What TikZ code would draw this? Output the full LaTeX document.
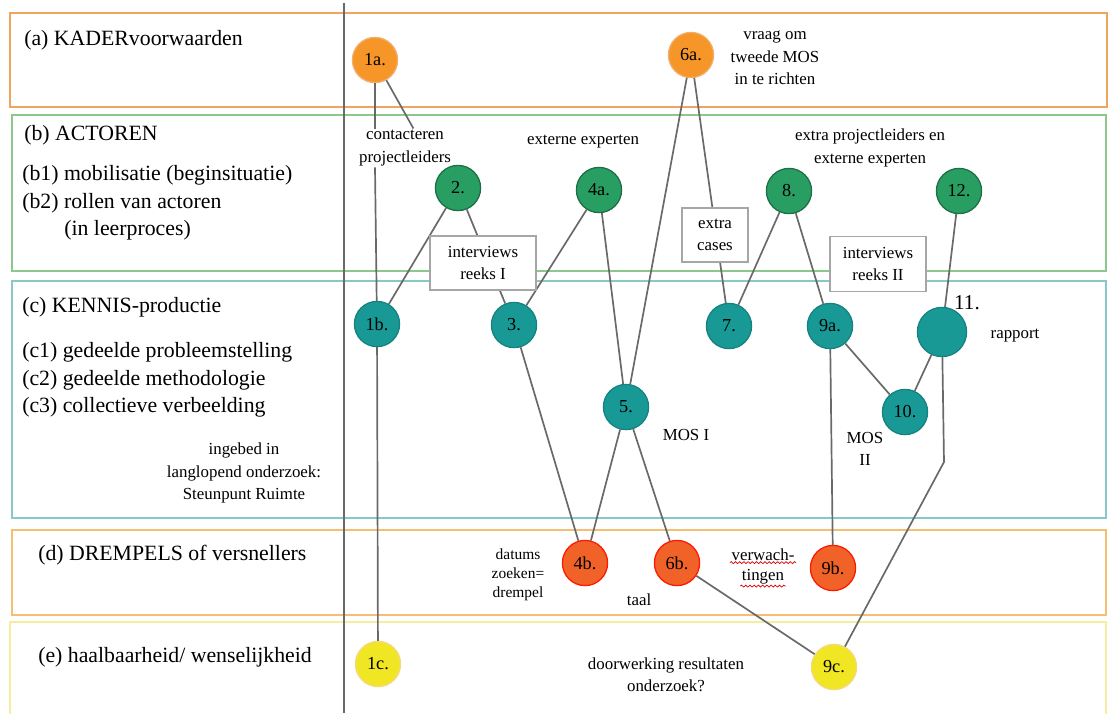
\documentclass[tikz,border=0pt]{standalone}
\usepackage{fontspec}
\setmainfont{Liberation Serif}
\usetikzlibrary{decorations.pathmorphing}

\definecolor{randkader}{RGB}{240,165,95}
\definecolor{randactor}{RGB}{140,200,140}
\definecolor{randkennis}{RGB}{135,200,200}
\definecolor{randdrempel}{RGB}{245,190,115}
\definecolor{randhaalbaar}{RGB}{245,238,160}
\definecolor{vulkader}{RGB}{247,150,40}
\definecolor{vulactor}{RGB}{40,158,98}
\definecolor{vulkennis}{RGB}{25,153,150}
\definecolor{vuldrempel}{RGB}{240,98,40}
\definecolor{vulhaalbaar}{RGB}{240,230,35}
\definecolor{lijngrijs}{RGB}{105,105,105}

\begin{document}
\begin{tikzpicture}[
x={(0.025cm, 0cm)}, y={(0cm, -0.025cm)},
% #region Picture settings %
band/.style={line width=1.8pt, fill=white},
stap/.style={circle, minimum size=11.3mm, inner sep=0pt, line width=0.9pt, font=\fontsize{13}{15}\selectfont},
kader/.style={stap, fill=vulkader, draw=randkader!90!white},
actor/.style={stap, fill=vulactor, draw=vulactor!70!black},
kennis/.style={stap, fill=vulkennis, draw=vulkennis!85!black},
drempel/.style={stap, fill=vuldrempel, draw=red!80!orange},
haalbaar/.style={stap, fill=vulhaalbaar, draw=randhaalbaar!80!orange},
lijn/.style={draw=lijngrijs, line width=1.2pt},
kop/.style={anchor=west, inner sep=0pt, font=\fontsize{15.5}{18}\selectfont},
notitie/.style={align=center, inner sep=1pt, font=\fontsize{12}{16}\selectfont},
vak/.style={notitie, draw=gray!70, fill=white, line width=0.8pt},
golf/.style={draw=red!85!black, line width=0.5pt, decorate, decoration={snake, amplitude=0.7pt, segment length=3pt}},
% #endregion Picture settings %
]

\useasboundingbox (0,0) rectangle (1114,713);

% bands
\filldraw[band, draw=randkader] (10,13) rectangle (1107,107);
\filldraw[band, draw=randactor] (12,115) rectangle (1106,271);
\filldraw[band, draw=randkennis] (12,281) rectangle (1106,518);
\filldraw[band, draw=randdrempel] (12,530) rectangle (1106,615);
\filldraw[band, draw=randhaalbaar] (10,622) rectangle (1106,730);
\draw[lijngrijs, line width=0.9pt] (344,3) -- (344,713);

% left column
\node[kop] (kopa) at (24,40) {(a) KADERvoorwaarden};
\node[kop] (kopb) at (24,135) {(b) ACTOREN};
\node[kop] (kopb1) at (22,175) {(b1) mobilisatie (beginsituatie)};
\node[kop] (kopb2) at (22,203) {(b2) rollen van actoren};
\node[kop] (kopb3) at (64,230) {(in leerproces)};
\node[kop] (kopc) at (22,307) {(c) KENNIS-productie};
\node[kop] (kopc1) at (22,352) {(c1) gedeelde probleemstelling};
\node[kop] (kopc2) at (22,380) {(c2) gedeelde methodologie};
\node[kop] (kopc3) at (22,407) {(c3) collectieve verbeelding};
\node[kop] (kopd) at (38,555) {(d) DREMPELS of versnellers};
\node[kop] (kope) at (38,657) {(e) haalbaarheid/ wenselijkheid};
\node[notitie] (ingebed) at (244,473) {ingebed in\\langlopend onderzoek:\\Steunpunt Ruimte};

% steps
\node[kader] (n1a) at (375,60) {1a.};
\node[kader] (n6a) at (691,55) {6a.};
\node[actor] (n2) at (458,188) {2.};
\node[actor] (n4a) at (599,190) {4a.};
\node[actor] (n8) at (789,191) {8.};
\node[actor] (n12) at (959,191) {12.};
\node[kennis] (n1b) at (377,324) {1b.};
\node[kennis] (n3) at (514,325) {3.};
\node[kennis] (n7) at (729,326) {7.};
\node[kennis] (n9a) at (830,326) {9a.};
\node[kennis, minimum size=12.3mm] (n11) at (942,332) {};
\node[kennis] (n5) at (626,407) {5.};
\node[kennis] (n10) at (905,412) {10.};
\node[drempel] (n4b) at (585,563) {4b.};
\node[drempel] (n6b) at (677,563) {6b.};
\node[drempel] (n9b) at (833,568) {9b.};
\node[haalbaar] (n1c) at (378,664) {1c.};
\node[haalbaar] (n9c) at (834,667) {9c.};

% texts
\node[notitie] (contact) at (405,148) {contacteren\\projectleiders};
\node[notitie] (extexp) at (583,142) {externe experten};
\node[notitie] (extra) at (870,148) {extra projectleiders en\\externe experten};
\node[notitie] (vraag) at (775,58) {vraag om\\tweede MOS\\in te richten};
\node[notitie] (mos1) at (686,435) {MOS I};
\node[notitie] (mos2) at (865,449) {MOS\\II};
\node[notitie] (rapport) at (1015,336) {rapport};
\node[inner sep=0pt, font=\fontsize{15}{17}\selectfont] (lbl11) at (967,303) {11.};
\node[notitie, font=\fontsize{11}{13.5}\selectfont] (datums) at (518,575) {datums\\zoeken=\\drempel};
\node[notitie] (verwach1) at (763,555) {verwach-};
\node[notitie] (verwach2) at (763,577) {tingen};
\node[notitie] (taal) at (639,600) {taal};
\node[notitie] (doorw) at (666,675) {doorwerking resultaten\\onderzoek?};
\draw[golf] (verwach1.south west) -- (verwach1.south east);
\draw[golf] (verwach2.south west) -- (verwach2.south east);

% connectors
\coordinate (knik) at (944,462);
\draw[lijn] (n1a) -- (n1a |- contact.north);
\draw[lijn] (n1a) -- ([xshift=6pt]contact.north);
\draw[lijn] (n1a |- contact.south) -- (n1b);
\draw[lijn] (n1b) -- (n1c);
\draw[lijn] (n2) -- (n1b);
\draw[lijn] (n2) -- (n3);
\draw[lijn] (n4a) -- (n3);
\draw[lijn] (n4a) -- (n5);
\draw[lijn] (n6a) -- (n5);
\draw[lijn] (n6a) -- (n7);
\draw[lijn] (n8) -- (n7);
\draw[lijn] (n8) -- (n9a);
\draw[lijn] (n12) -- (n11);
\draw[lijn] (n9a) -- (n10);
\draw[lijn] (n11) -- (n10);
\draw[lijn] (n3) -- (n4b);
\draw[lijn] (n5) -- (n4b);
\draw[lijn] (n5) -- (n6b);
\draw[lijn] (n9a) -- (n9b);
\draw[lijn] (n11) -- (knik) -- (n9c);
\draw[lijn] (n6b) -- (n9c);

% boxes on top of the lines
\node[vak, minimum width=2.65cm, minimum height=1.35cm] (reeks1) at (483,263) {interviews\\reeks I};
\node[vak, minimum width=1.65cm, minimum height=1.35cm] (cases) at (715,235) {extra\\cases};
\node[vak, minimum width=2.4cm, minimum height=1.37cm] (reeks2) at (878,264) {interviews\\reeks II};

\end{tikzpicture}
\end{document}
